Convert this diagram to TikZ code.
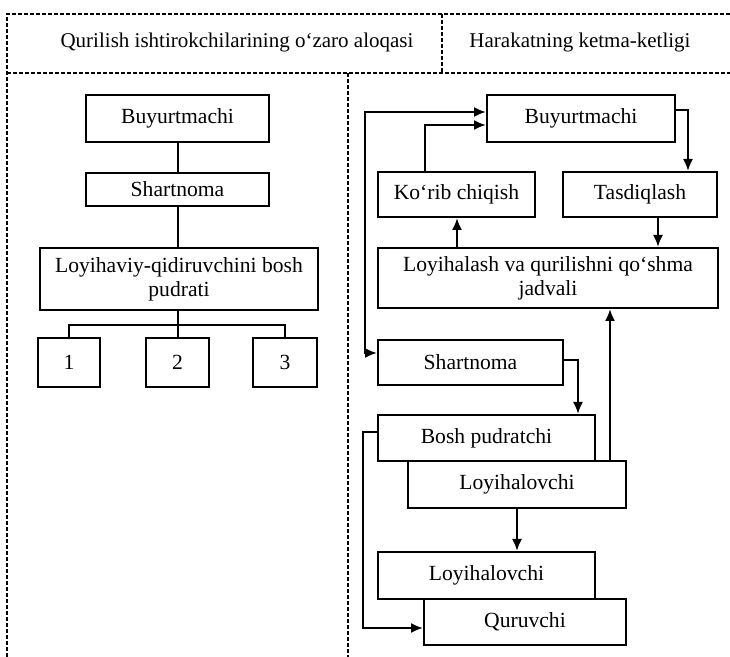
\documentclass[tikz,border=0pt]{standalone}
\usepackage{fontspec}
\setmainfont{Liberation Serif}
\usetikzlibrary{arrows.meta}
\begin{document}
\begin{tikzpicture}[x=0.5pt,y=-0.5pt,>={Latex[length=6pt,width=5pt]},
    frame/.style={line width=0.75pt,dash pattern=on 2pt off 1pt},
    box/.style={draw,fill=white,line width=1pt,inner sep=0pt,align=center,
      font=\fontsize{10.8}{12}\selectfont},
    link/.style={line width=1pt},
    head/.style={font=\fontsize{10.5}{12}\selectfont}
  ]
  \useasboundingbox (0,0) rectangle (730,657);
  % dashed frame
  \draw[frame] (7,657) -- (7,14) -- (730,14);
  \draw[frame] (7,73) -- (730,73);
  \draw[frame] (442,14) -- (442,73);
  \draw[frame] (348,73) -- (348,657);
  \node[head] (hleft) at (237,42) {Qurilish ishtirokchilarining o‘zaro aloqasi};
  \node[head] (hright) at (580,42) {Harakatning ketma-ketligi};

  % left part
  \node[box,minimum width=91.5pt,minimum height=23.5pt] (buyL) at (177.5,118.5) {Buyurtmachi};
  \node[box,minimum width=91.5pt,minimum height=16.5pt] (shartL) at (177.5,189.5) {Shartnoma};
  \node[box,minimum width=139pt,minimum height=31pt] (loyL) at (179,279)
    {Loyihaviy-qidiruvchini bosh\\pudrati};
  \node[box,minimum width=31pt,minimum height=24.5pt] (n1) at (69,362.5) {1};
  \node[box,minimum width=31.5pt,minimum height=24.5pt] (n2) at (177.5,362.5) {2};
  \node[box,minimum width=32pt,minimum height=24.5pt] (n3) at (285,362.5) {3};
  \coordinate (fork) at (177.5,325);

  \draw[link] (buyL) -- (shartL);
  \draw[link] (shartL) -- (loyL.north -| shartL);
  \draw[link] (loyL.south -| fork) -- (fork);
  \foreach \n in {n1,n2,n3}
    \draw[link] (fork) -| (\n.north);

  % right part
  \node[box,minimum width=94pt,minimum height=23.5pt] (buyR) at (581,118.5) {Buyurtmachi};
  \node[box,minimum width=78.5pt,minimum height=22.5pt] (korib) at (456.5,194.5) {Ko‘rib chiqish};
  \node[box,minimum width=77pt,minimum height=22.5pt] (tasd) at (640,194.5) {Tasdiqlash};
  \node[box,minimum width=170pt,minimum height=30pt] (jadval) at (548,278)
    {Loyihalash va qurilishni qo‘shma\\jadvali};
  \node[box,minimum width=92.5pt,minimum height=22.5pt] (shartR) at (470.5,362.5) {Shartnoma};
  \node[box,minimum width=108.5pt,minimum height=23pt] (bosh) at (486.5,438) {Bosh pudratchi};
  \node[box,minimum width=109pt,minimum height=23.5pt] (loy1) at (517,484.5) {Loyihalovchi};
  \node[box,minimum width=108.5pt,minimum height=23.5pt] (loy2) at (486.5,575.5) {Loyihalovchi};
  \node[box,minimum width=101pt,minimum height=23pt] (quruv) at (525,622) {Quruvchi};

  \draw[link,<->] (buyR.west |- 0,112) -- (365,112) |- (shartR.west |- 0,353);
  \draw[link,->] (korib.north -| 425,0) |- (buyR.west |- 0,125);
  \draw[link,->] (jadval.north -| 457,0) -- (korib.south -| 457,0);
  \draw[link,->] (buyR.east |- 0,110) -| (tasd.north -| 688,0);
  \draw[link,->] (tasd.south -| 658,0) -- (jadval.north -| 658,0);
  \draw[link,->] (loy1.north -| 610,0) -- (jadval.south -| 610,0);
  \draw[link,->] (shartR.east |- 0,360) -| (bosh.north -| 578,0);
  \draw[link,->] (loy1.south) -- (loy2.north -| loy1.south);
  \draw[link,->] (bosh.west |- 0,432) -- (363,432) |- (quruv.west |- 0,628);
\end{tikzpicture}
\end{document}
